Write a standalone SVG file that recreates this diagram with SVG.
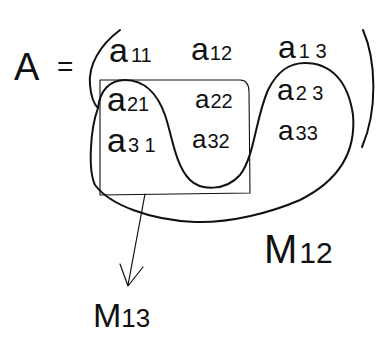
<svg xmlns="http://www.w3.org/2000/svg" width="383" height="337" viewBox="0 0 383 337">
<style>
.t{font-family:"Liberation Sans","DejaVu Sans",sans-serif;fill:#111}
.s{font-size:20px}
.ln{fill:none;stroke:#111;stroke-linecap:round;stroke-linejoin:round}
</style>
<rect width="383" height="337" fill="#fff"/>
<text class="t" x="14" y="80" font-size="38">A</text>
<text class="t" x="57" y="76" font-size="28">=</text>
<path class="ln" stroke-width="2" d="M120,30 C100,45 88,65 90,85 C91,97 94,104 98,108"/>
<path class="ln" stroke-width="2" d="M363,30 C376,60 378,110 362,147"/>
<g id="entries">
<text class="t" x="109" y="62" font-size="34">a<tspan class="s" dx="3">11</tspan></text>
<text class="t" x="191" y="60" font-size="32">a<tspan class="s" dx="1">12</tspan></text>
<text class="t" x="278" y="58" font-size="32">a<tspan class="s" dx="3">1 3</tspan></text>
<text class="t" x="107" y="111" font-size="34">a<tspan class="s" dx="1">21</tspan></text>
<text class="t" x="195" y="108" font-size="26">a<tspan class="s" dx="1">22</tspan></text>
<text class="t" x="277" y="100" font-size="30">a<tspan class="s" dx="2">2 3</tspan></text>
<text class="t" x="107" y="152" font-size="34">a<tspan class="s" dx="2">3 1</tspan></text>
<text class="t" x="192" y="148" font-size="26">a<tspan class="s" dx="1">32</tspan></text>
<text class="t" x="278" y="140" font-size="28">a<tspan class="s" dx="2">33</tspan></text>
</g>
<path class="ln" stroke-width="1.1" d="M100,80 L240,80 Q249,80 249,92 L250,193 L100,195 Z"/>
<path class="ln" stroke-width="2" d="M98,108 C100,90 110,80 125,80 C145,80 158,95 165,115 C172,135 175,165 190,180 C200,190 225,192 240,175 C255,155 255,120 268,90 C278,70 290,63 305,63 C330,63 348,80 353,115 C356,150 340,180 300,200 C270,213 230,223 195,222 C150,220 110,205 95,185 C88,170 90,130 98,108 Z"/>
<g id="arrow">
<path class="ln" stroke-width="1.2" d="M145,194 L128,285 M120,264 L128,286 L143,267"/>
</g>
<text class="t" x="264" y="263" font-size="40">M<tspan font-size="30" dx="2">12</tspan></text>
<text class="t" x="93" y="327" font-size="34">M<tspan font-size="26" dx="0">13</tspan></text>
</svg>
